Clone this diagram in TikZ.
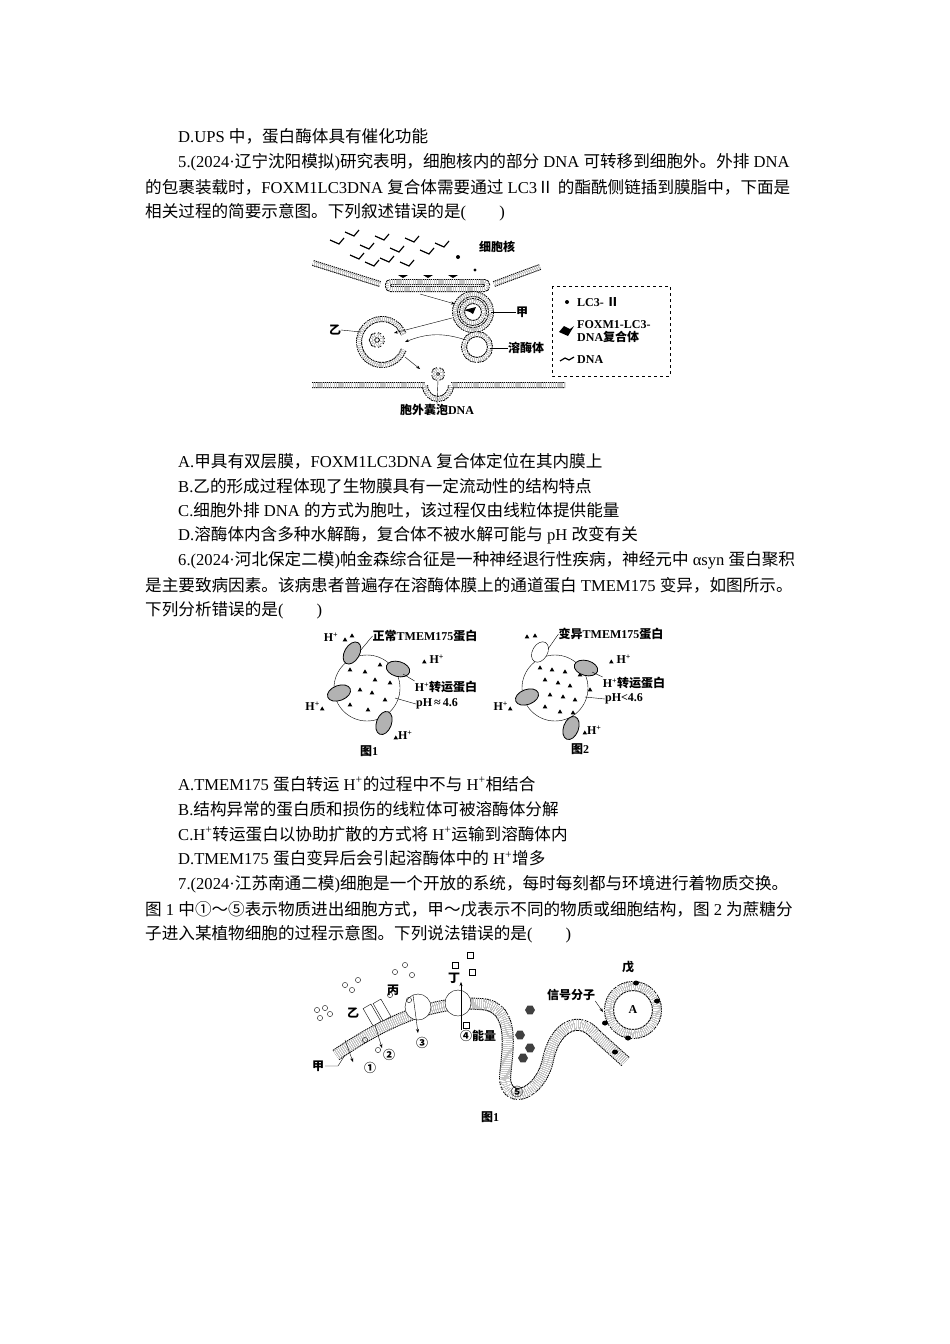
\documentclass[tikz,border=0pt]{standalone}
\usepackage{fontspec}
\setmainfont{Liberation Serif}
\newfontfamily\cjk{Noto Sans CJK SC}
\usetikzlibrary{arrows.meta,shapes.geometric}
\XeTeXinterchartokenstate=1
\newXeTeXintercharclass\CJKcls
\newcount\mycnt
\mycnt="2460 \loop \XeTeXcharclass\mycnt=\CJKcls \ifnum\mycnt<"2473 \advance\mycnt 1 \repeat
\mycnt="3000 \loop \XeTeXcharclass\mycnt=\CJKcls \ifnum\mycnt<"9FFF \advance\mycnt 1 \repeat
\mycnt="FF00 \loop \XeTeXcharclass\mycnt=\CJKcls \ifnum\mycnt<"FFEF \advance\mycnt 1 \repeat
\XeTeXcharclass"2161=\CJKcls
\XeTeXinterchartoks 0 \CJKcls = {\begingroup\cjk}
\XeTeXinterchartoks 4095 \CJKcls = {\begingroup\cjk}
\XeTeXinterchartoks \CJKcls 0 = {\endgroup}
\XeTeXinterchartoks \CJKcls 4095 = {\endgroup}
\tikzset{
 ln/.style={anchor=west,inner sep=0pt,font=\fontsize{16.6}{18}\selectfont},
 lb/.style={inner sep=0pt,font=\fontsize{12}{13}\selectfont\bfseries},
 mem/.style={draw=black,double=white,double distance=4pt,line width=1pt,dash pattern=on 1.3pt off 0.8pt},
 arr/.style={-{Stealth[length=4pt]},thin},
 prot/.style={draw,fill=gray!60,line width=0.8pt,ellipse,minimum width=24pt,minimum height=15pt},
 tri/.style={isosceles triangle,isosceles triangle apex angle=60,shape border rotate=90,fill=black,inner sep=0pt,minimum size=4pt}
}
\begin{document}
\begin{tikzpicture}[x=1pt,y=-1pt]
\useasboundingbox[fill=white] (0,0) rectangle (950,1344);
% ---------- text ----------
\node[ln] (t1) at (178,136) {D.UPS 中，蛋白酶体具有催化功能};
\node[ln] (t2) at (178,162) {5.(2024·辽宁沈阳模拟)研究表明，细胞核内的部分 DNA 可转移到细胞外。外排 DNA};
\node[ln] (t3) at (145,187) {的包裹装载时，FOXM1LC3DNA 复合体需要通过 LC3Ⅱ 的酯酰侧链插到膜脂中，下面是};
\node[ln] (t4) at (145,212) {相关过程的简要示意图。下列叙述错误的是(\hspace{2em})};
\node[ln] (t5) at (178,461) {A.甲具有双层膜，FOXM1LC3DNA 复合体定位在其内膜上};
\node[ln] (t6) at (178,486) {B.乙的形成过程体现了生物膜具有一定流动性的结构特点};
\node[ln] (t7) at (178,510) {C.细胞外排 DNA 的方式为胞吐，该过程仅由线粒体提供能量};
\node[ln] (t8) at (178,535) {D.溶酶体内含多种水解酶，复合体不被水解可能与 pH 改变有关};
\node[ln] (t9) at (178,560) {6.(2024·河北保定二模)帕金森综合征是一种神经退行性疾病，神经元中 αsyn 蛋白聚积};
\node[ln] (t10) at (145,585) {是主要致病因素。该病患者普遍存在溶酶体膜上的通道蛋白 TMEM175 变异，如图所示。};
\node[ln] (t11) at (145,610) {下列分析错误的是(\hspace{2em})};
\node[ln] (t12) at (178,784) {A.TMEM175 蛋白转运 H\textsuperscript{+}的过程中不与 H\textsuperscript{+}相结合};
\node[ln] (t13) at (178,809) {B.结构异常的蛋白质和损伤的线粒体可被溶酶体分解};
\node[ln] (t14) at (178,834) {C.H\textsuperscript{+}转运蛋白以协助扩散的方式将 H\textsuperscript{+}运输到溶酶体内};
\node[ln] (t15) at (178,858) {D.TMEM175 蛋白变异后会引起溶酶体中的 H\textsuperscript{+}增多};
\node[ln] (t16) at (178,884) {7.(2024·江苏南通二模)细胞是一个开放的系统，每时每刻都与环境进行着物质交换。};
\node[ln] (t17) at (145,909) {图 1 中①～⑤表示物质进出细胞方式，甲～戊表示不同的物质或细胞结构，图 2 为蔗糖分};
\node[ln] (t18) at (145,934) {子进入某植物细胞的过程示意图。下列说法错误的是(\hspace{2em})};
% ---------- figure Q5 ----------
\foreach \x/\y in {330/240,345/232,360/245,375/236,390/248,405/238,420/250,435/243,350/255,380/258,400/262,365/262}
  \draw[line width=1.2pt] (\x,\y) -- ++(9,4) -- ++(5,-6);
\draw[mem] (313,263) -- (380,284);
\draw[mem,rounded corners=3pt] (388,282) -- (487,282) -- (487,289) -- (388,289) -- cycle;
\draw[mem] (494,284) -- (540,267);
\node[lb] (nuc) at (497,247) {细胞核};
\foreach \x in {403,428,453}\fill (\x,278) -- ++(-5,-3) -- ++(10,0) -- cycle;
\fill (458,257) circle (2pt); \fill (475,270) circle (1.6pt);
\coordinate (jia) at (473,312);
\draw[mem] (jia) circle (18pt); \draw[mem] (jia) circle (11pt);
\fill (470,312) -- ++(-6,-2) -- ++(12,-3) -- ++(-3,7) -- cycle;
\node[lb] (jial) at (522,312) {甲};
\draw (491,312) -- (jial.west);
\coordinate (yi) at (382,342);
\draw[mem] ([shift={(20:23)}]yi) arc (20:340:23);
\draw[mem] (yi) ++(-5,-2) circle (5pt);
\node[lb] (yil) at (335,330) {乙};
\draw (yil.east) -- (361,332);
\coordinate (rmt) at (477,347);
\draw[mem] (rmt) circle (13pt);
\node[lb] (rml) at (526,348) {溶酶体};
\draw (490,348) -- (rml.west);
\draw[mem] (312,385) -- (425,385) arc (180:0:13 and 14) -- (565,385);
\draw[mem] (438,374) circle (4pt);
\node[lb] (exo) at (437,410) {胞外囊泡DNA};
\draw (438,380) -- (exo.north);
\draw[arr] (420,294) -- (455,304);
\draw[arr] (452,318) -- (394,333);
\draw[arr] (466,340) to[bend right=20] (405,342);
\draw[arr] (405,357) -- (420,369);
\draw[dashed,thin] (552,286) rectangle (670,376);
\fill (567,302) circle (2pt);
\node[lb,anchor=west] (lg1) at (577,302) {LC3- Ⅱ};
\fill (559,332) -- ++(5,-6) -- ++(6,3) -- ++(4,-3) -- ++(-6,10) -- cycle;
\node[lb,anchor=west,align=left] (lg2) at (577,332) {FOXM1-LC3-\\DNA复合体};
\draw[line width=1.2pt] (560,361) -- ++(5,-3) -- ++(4,2) -- ++(5,-3);
\node[lb,anchor=west] (lg3) at (577,360) {DNA};
% ---------- figure Q6 ----------
\foreach \cx in {367,555}{
  \draw[thin] (\cx,688) circle (33pt);
}
\foreach \x/\y in {350/670,365/672,375/680,360/690,372/693,385/700,350/705,368/710,390/683,380/665}
  \node[tri] at (\x,\y) {};
\foreach \x/\y in {540/668,552/670,565/672,545/680,558/683,570/686,535/692,550/695,563/697,575/700,545/707,560/712,573/713,580/675,590/690}
  \node[tri] at (\x,\y) {};
\node[prot,rotate=60] (p1) at (352,653) {};
\node[prot,rotate=-15] (p2) at (398,669) {};
\node[prot,rotate=20] (p3) at (339,693) {};
\node[prot,rotate=70] (p4) at (384,723) {};
\node[prot,rotate=-15] (p5) at (586,668) {};
\node[prot,rotate=20] (p6) at (527,697) {};
\node[prot,rotate=70] (p7) at (571,728) {};
\node[draw,ellipse,minimum width=22pt,minimum height=15pt,rotate=60,fill=white] (p8) at (540,652) {};
\node[lb] (q1) at (331,637) {H\textsuperscript{+}};
\node[tri] at (345,640) {}; \node[tri] at (352,636) {};
\node[lb] (q2) at (425,636) {正常TMEM175蛋白};
\draw (360,651) -- (q2.west);
\node[lb] (q3) at (433,659) {\tikz\node[tri]{}; H\textsuperscript{+}};
\node[lb] (q4) at (446,687) {H\textsuperscript{+}转运蛋白};
\draw (403,674) -- (q4.north west);
\node[lb] (q5) at (437,704) {pH\,≈\,4.6};
\draw (395,698) -- (q5.west);
\node[lb] (q6) at (315,706) {H\textsuperscript{+}\tikz\node[tri]{};};
\node[lb] (q7) at (403,735) {\tikz\node[tri]{};H\textsuperscript{+}};
\node[lb] (f1) at (369,751) {图1};
\node[tri] at (527,637) {}; \node[tri] at (535,636) {};
\node[lb] (r2) at (611,634) {变异TMEM175蛋白};
\draw (548,649) -- (r2.west);
\node[lb] (r3) at (620,659) {\tikz\node[tri]{}; H\textsuperscript{+}};
\node[lb] (r4) at (634,683) {H\textsuperscript{+}转运蛋白};
\draw (592,672) -- (r4.north west);
\node[lb] (r5) at (624,699) {pH<4.6};
\draw (585,697) -- (r5.west);
\node[lb] (r6) at (503,706) {H\textsuperscript{+}\tikz\node[tri]{};};
\node[lb] (r7) at (592,730) {\tikz\node[tri]{};H\textsuperscript{+}};
\node[lb] (f2) at (580,749) {图2};
% ---------- figure Q7 ----------
\draw[mem,double distance=10pt] (336,1055) .. controls (380,1025) and (430,1000) .. (480,1004)
  .. controls (520,1005) and (505,1060) .. (505,1080)
  .. controls (508,1105) and (540,1095) .. (548,1060)
  .. controls (555,1025) and (580,1015) .. (596,1035) -- (626,1062);
\draw[mem,double distance=8pt] (633,1010) circle (24pt);
\node[draw,fill=white,minimum width=9pt,minimum height=20pt,rotate=30] (ch1) at (372,1015) {};
\node[draw,fill=white,minimum width=9pt,minimum height=20pt,rotate=30] (ch2) at (382,1010) {};
\node[draw,circle,fill=white,minimum size=26pt] (c3) at (418,1007) {};
\node[draw,circle,fill=white,minimum size=26pt] (c4) at (458,1003) {};
\foreach \x/\y in {530/1010,520/1035,530/1048,523/1058} \node[regular polygon,regular polygon sides=6,fill=black!75,minimum size=10pt,inner sep=0pt] at (\x,\y) {};
\foreach \x/\y in {605/1023,615/1052,636/983,657/1001,628/1038} \fill (\x,\y) ellipse (3pt and 2.5pt);
\foreach \x/\y in {317/1010,325/1008,320/1018,330/1014,345/985,352/990,358/980,395/972,405/965,412/975,390/995,409/1000,365/1040,378/1050}
  \draw (\x,\y) circle (2.6pt);
\foreach \x/\y in {455/965,470/955,472/972,466/1025}\draw (\x-3,\y-3) rectangle ++(6,6);
\node[lb] (g1) at (318,1066) {甲};
\draw (325,1066) -- (338,1066) -- (345,1055);
\node[lb] (g2) at (353,1013) {乙};
\node[lb] (g3) at (393,990) {丙};
\node[lb] (g4) at (454,978) {丁};
\node[lb] (g5) at (478,1036) {④能量};
\node[lb] (g6) at (370,1068) {①};
\node[lb] (g7) at (389,1055) {②};
\node[lb] (g8) at (422,1043) {③};
\node[lb] (g9) at (517,1092) {⑤};
\node[lb] (g10) at (628,967) {戊};
\node[lb] (g11) at (633,1010) {A};
\node[lb] (g12) at (571,995) {信号分子};
\draw[arr] (g12.south east) -- (603,1012);
\draw[arr] (345,1040) -- (353,1062);
\draw[arr] (375,1025) -- (382,1048);
\draw[arr] (413,995) -- (418,1033);
\draw[arr] (461,1030) -- (461,982);
\node[lb] (f3) at (490,1117) {图1};
\end{tikzpicture}
\end{document}
